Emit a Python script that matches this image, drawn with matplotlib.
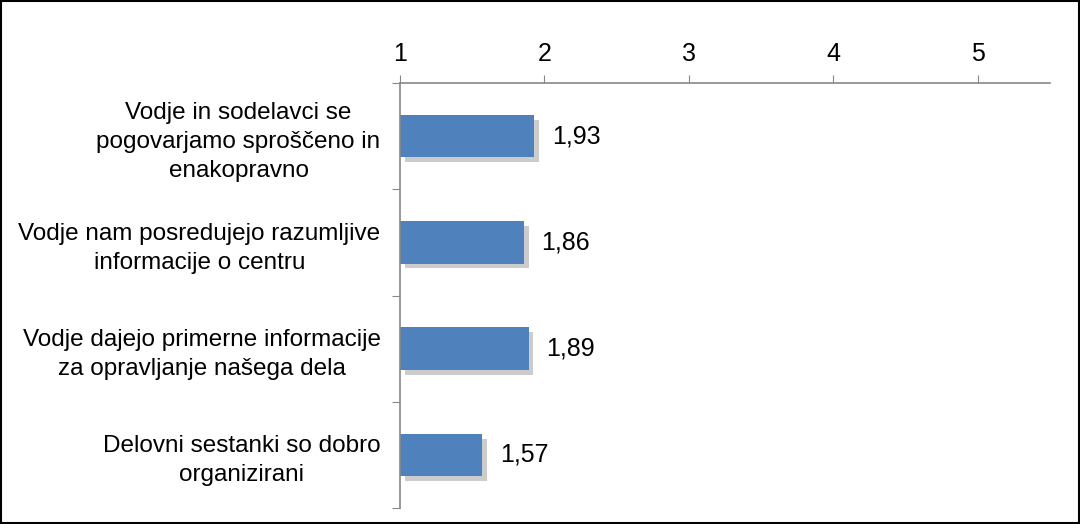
import matplotlib.pyplot as plt
import matplotlib.patheffects as pe
from matplotlib.patches import Rectangle

labels = ["Vodje in sodelavci se\npogovarjamo sproščeno in\nenakopravno",
          "Vodje nam posredujejo razumljive\ninformacije o centru",
          "Vodje dajejo primerne informacije\nza opravljanje našega dela",
          "Delovni sestanki so dobro\norganizirani"]
values = [1.93, 1.86, 1.89, 1.57]
ticks = [1, 2, 3, 4, 5]

plt.rcParams['font.family'] = ['Liberation Sans', 'DejaVu Sans']

fig = plt.figure(figsize=(10.8, 5.24), dpi=100)
ax = fig.add_axes([0.3704, 0.0305, 0.6018, 0.8111])

y = list(range(len(values)))
bars = ax.barh(y, [v - 1 for v in values], left=1, height=0.4, color='#4F81BD',
               path_effects=[pe.SimplePatchShadow(offset=(3.5, -3.5), shadow_rgbFace='#aaaaaa', alpha=0.6),
                             pe.Normal()])

for yi, v in zip(y, values):
    ax.text(v + 0.12, yi, ('%.2f' % v).replace('.', ','), va='center', ha='left', fontsize=18)

ax.set_xlim(1, 5.5)
ax.set_ylim(len(values) - 0.5, -0.5)
ax.xaxis.tick_top()
ax.set_xticks(ticks)
ax.set_xticklabels([str(t) for t in ticks], fontsize=18)
ax.tick_params(axis='x', length=6, color='#888888', pad=6)

ax.set_yticks([i - 0.5 for i in range(len(values) + 1)], minor=False)
ax.set_yticklabels([])
ax.set_yticks(y, minor=True)
ax.set_yticklabels(labels, minor=True, fontsize=17.5, multialignment='center', linespacing=1.4)
ax.tick_params(axis='y', which='major', length=6, color='#888888')
ax.tick_params(axis='y', which='minor', length=0, pad=14)

for s in ['right', 'bottom']:
    ax.spines[s].set_visible(False)
for s in ['top', 'left']:
    ax.spines[s].set_color('#888888')
    ax.spines[s].set_linewidth(1.2)

fig.patches.append(Rectangle((0.001, 0.001), 0.998, 0.997, transform=fig.transFigure,
                             fill=False, edgecolor='black', linewidth=1.5))

fig.savefig('out.png', dpi=100)
